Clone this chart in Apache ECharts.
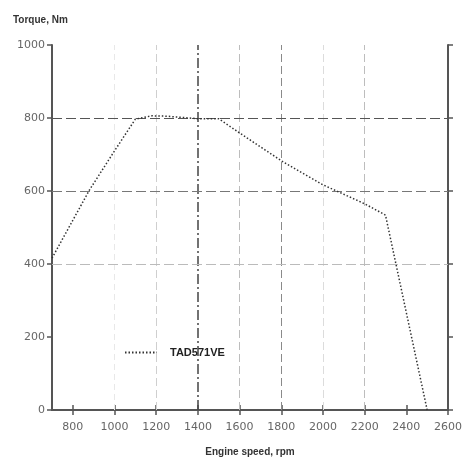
<!DOCTYPE html>
<html>
<head>
<meta charset="utf-8">
<script src="https://cdn.jsdelivr.net/npm/echarts@6/dist/echarts.min.js"></script>
<style>html,body{margin:0;padding:0;background:#fff;}#c{width:466px;height:459px;}</style>
</head>
<body>
<div id="c"></div>
<script>
const speed = [700, 880, 1000, 1100, 1180, 1250, 1400, 1500, 1600, 1800, 2000, 2200, 2300, 2500];
const torque = [416, 603, 710, 797, 806, 805, 798, 798, 759, 683, 617, 565, 534, 0];
const seriesName = 'TAD571VE';
const xTicks = [800, 1000, 1200, 1400, 1600, 1800, 2000, 2200, 2400, 2600];
const yTicks = [0, 200, 400, 600, 800, 1000];
const vGrid = [1000, 1200, 1400, 1600, 1800, 2000, 2200];
const hGrid = [400, 600, 800];

const vStyle = {
  1000: {color:'#e8e8e8', width:1, type:[6,4]},
  1200: {color:'#cfcfcf', width:1, type:[8,4]},
  1400: {color:'#444', width:1.5, type:[10,3,2,3]},
  1600: {color:'#bdbdbd', width:1, type:[8,4]},
  1800: {color:'#8a8a8a', width:1, type:[8,4]},
  2000: {color:'#dcdcdc', width:1, type:[8,4]},
  2200: {color:'#bdbdbd', width:1, type:[8,4]}
};
const hStyle = {
  400: {color:'#bbb', width:1, type:[10,4]},
  600: {color:'#777', width:1, type:[10,4]},
  800: {color:'#555', width:1.2, type:[10,4]}
};

const chart = echarts.init(document.getElementById('c'), null, {renderer:'canvas'});
const axisLine = {show:true, lineStyle:{color:'#555', width:2}};
const lblFont = {color:'#666', fontSize:11, fontFamily:'DejaVu Sans, sans-serif'};
const xTick = {show:true, length:5, customValues:xTicks, lineStyle:{color:'#555', width:1.5}};
const yTick = {show:true, length:5, customValues:yTicks, lineStyle:{color:'#555', width:1.5}};

const markData = vGrid.map(v => ({xAxis: v, lineStyle: vStyle[v]}))
  .concat(hGrid.map(v => ({yAxis: v, lineStyle: hStyle[v]})));

chart.setOption({
  animation:false,
  backgroundColor:'#fff',
  grid:{left:52, top:45, width:396, height:365, containLabel:false, outerBoundsMode:'none'},
  title:{text:'Torque, Nm', left:8, top:10, textStyle:{fontSize:10, fontWeight:'bold', color:'#333', fontFamily:'Liberation Sans, Arial, sans-serif'}},
  legend:{
    data:[seriesName], left:119, top:342, itemWidth:32, itemHeight:12, itemGap:6,
    itemStyle:{opacity:0},
    textStyle:{fontSize:11, fontWeight:'bold', color:'#222', fontFamily:'Liberation Sans, Arial, sans-serif', padding:[0,0,0,8]}
  },
  xAxis:[
    {type:'value', min:700, max:2600, position:'bottom',
     name:'Engine speed, rpm', nameLocation:'middle', nameGap:37,
     nameTextStyle:{fontSize:10, fontWeight:'bold', color:'#333', fontFamily:'Liberation Sans, Arial, sans-serif'},
     axisLine:axisLine, axisTick:xTick,
     axisLabel:Object.assign({margin:12, customValues:xTicks, formatter:v => String(v)}, lblFont),
     splitLine:{show:false}},
    {type:'value', min:700, max:2600, position:'top',
     axisLine:axisLine, axisTick:xTick, axisLabel:{show:false}, splitLine:{show:false}}
  ],
  yAxis:[
    {type:'value', min:0, max:1000, interval:200, position:'left',
     axisLine:axisLine, axisTick:yTick,
     axisLabel:Object.assign({margin:7, customValues:yTicks, formatter:v => String(v)}, lblFont),
     splitLine:{show:false}},
    {type:'value', min:0, max:1000, interval:200, position:'right',
     axisLine:axisLine, axisTick:yTick, axisLabel:{show:false}, splitLine:{show:false}}
  ],
  series:[{
    name:seriesName, type:'line', xAxisIndex:0, yAxisIndex:0,
    data: speed.map((s,i) => [s, torque[i]]),
    showSymbol:false, symbol:'none',
    lineStyle:{color:'#333', width:1.5, type:[1.5,2]},
    itemStyle:{color:'#333'},
    z:5,
    markLine:{silent:true, symbol:['none','none'], label:{show:false}, z:1, data:markData}
  }]
});
</script>
</body>
</html>
